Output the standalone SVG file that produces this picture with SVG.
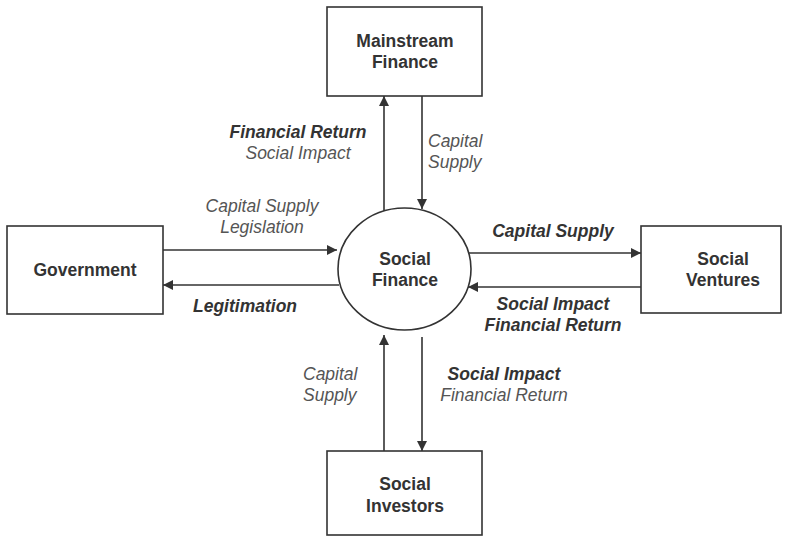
<svg xmlns="http://www.w3.org/2000/svg" width="788" height="539" viewBox="0 0 788 539">
  <style>
    .box { fill: #ffffff; stroke: #333333; stroke-width: 1.6; }
    .name { font-family: "Liberation Sans", Arial, sans-serif; font-size: 17.5px; font-weight: bold; fill: #333333; text-anchor: middle; }
    .flow { stroke: #333333; stroke-width: 1.6; fill: none; }
    .lbl { font-family: "Liberation Sans", Arial, sans-serif; font-size: 17.5px; font-style: italic; fill: #555555; }
    .lbl-b { font-family: "Liberation Sans", Arial, sans-serif; font-size: 17.5px; font-style: italic; font-weight: bold; fill: #333333; }
  </style>
  <defs>
    <marker id="arrow" viewBox="0 0 10 10" refX="10" refY="5" markerWidth="10" markerHeight="10" markerUnits="userSpaceOnUse" orient="auto">
      <path d="M0,0 L10,5 L0,10 Z" fill="#333333"/>
    </marker>
  </defs>
  <rect width="788" height="539" fill="#ffffff"/>

  <!-- flows between the hub and the four actors -->
  <g id="connectors">
    <!-- Mainstream Finance -->
    <line class="flow" x1="384" y1="211" x2="384" y2="96" marker-end="url(#arrow)"/>
    <line class="flow" x1="422" y1="96" x2="422" y2="209" marker-end="url(#arrow)"/>
    <!-- Government -->
    <line class="flow" x1="163" y1="250" x2="337" y2="250" marker-end="url(#arrow)"/>
    <line class="flow" x1="339" y1="285" x2="163" y2="285" marker-end="url(#arrow)"/>
    <!-- Social Ventures -->
    <line class="flow" x1="469" y1="253" x2="641" y2="253" marker-end="url(#arrow)"/>
    <line class="flow" x1="641" y1="287" x2="468" y2="287" marker-end="url(#arrow)"/>
    <!-- Social Investors -->
    <line class="flow" x1="384" y1="451" x2="384" y2="335" marker-end="url(#arrow)"/>
    <line class="flow" x1="422" y1="337" x2="422" y2="451" marker-end="url(#arrow)"/>

    <!-- flow labels -->
    <text class="lbl-b" x="298" y="138" text-anchor="middle">Financial Return</text>
    <text class="lbl" x="298" y="159" text-anchor="middle">Social Impact</text>
    <text class="lbl" x="428" y="147">Capital</text>
    <text class="lbl" x="428" y="168">Supply</text>

    <text class="lbl" x="262" y="212" text-anchor="middle">Capital Supply</text>
    <text class="lbl" x="262" y="233" text-anchor="middle">Legislation</text>
    <text class="lbl-b" x="245" y="312" text-anchor="middle">Legitimation</text>

    <text class="lbl-b" x="553" y="237" text-anchor="middle">Capital Supply</text>
    <text class="lbl-b" x="553" y="310" text-anchor="middle">Social Impact</text>
    <text class="lbl-b" x="553" y="331" text-anchor="middle">Financial Return</text>

    <text class="lbl" x="303" y="380">Capital</text>
    <text class="lbl" x="303" y="401">Supply</text>
    <text class="lbl-b" x="504" y="380" text-anchor="middle">Social Impact</text>
    <text class="lbl" x="504" y="401" text-anchor="middle">Financial Return</text>
  </g>

  <g id="social-finance">
    <ellipse class="box" cx="404.5" cy="269" rx="66.5" ry="61"/>
    <text class="name" x="405" y="265">Social</text>
    <text class="name" x="405" y="286">Finance</text>
  </g>

  <g id="mainstream-finance">
    <rect class="box" x="327" y="7" width="155" height="89"/>
    <text class="name" x="405" y="47">Mainstream</text>
    <text class="name" x="405" y="68">Finance</text>
  </g>

  <g id="government">
    <rect class="box" x="7" y="226" width="156" height="88"/>
    <text class="name" x="85" y="276">Government</text>
  </g>

  <g id="social-ventures">
    <rect class="box" x="641" y="226" width="140" height="87"/>
    <text class="name" x="723" y="265">Social</text>
    <text class="name" x="723" y="286">Ventures</text>
  </g>

  <g id="social-investors">
    <rect class="box" x="327" y="451" width="155" height="84"/>
    <text class="name" x="405" y="490">Social</text>
    <text class="name" x="405" y="512">Investors</text>
  </g>
</svg>
